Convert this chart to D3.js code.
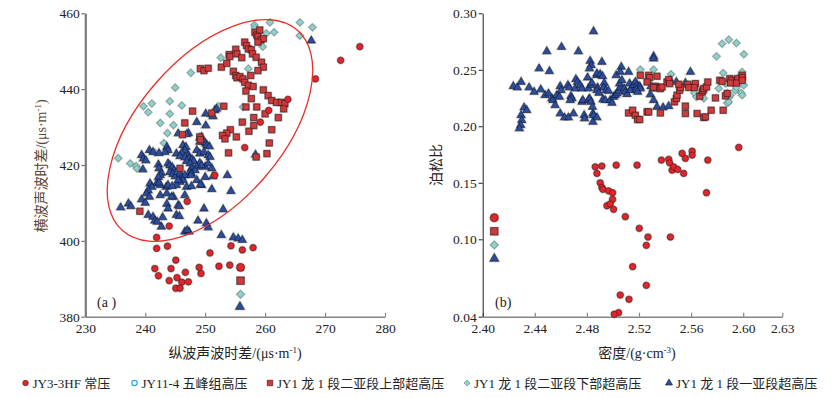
<!DOCTYPE html>
<html><head><meta charset="utf-8">
<script src="https://cdn.jsdelivr.net/npm/d3@7"></script>
<style>
body{margin:0;background:#fff}
svg{display:block}
text{font-family:"Liberation Serif","Times New Roman","Noto Sans CJK SC",serif;fill:#222}
</style>
</head><body>
<svg id="c" width="833" height="398"></svg>
<script>
// ---------------- DATA ----------------
// Panel (a): x = 纵波声波时差 (μs/m), y = 横波声波时差 (μs/m)
const aXTicks = [230, 240, 250, 260, 270, 280];
const aYTicks = [380, 400, 420, 440, 460];
const aCircles = [[275.8,451.2],[272.6,447.6],[268.4,442.7],[263.8,437.3],[260.6,434.4],[259.2,431.3],[256.6,424.6],[251.6,417.3],[247.0,410.4],[244.0,403.9],[241.9,400.9],[241.9,398.0],[243.7,398.6],[245.1,394.9],[241.6,392.7],[244.3,392.7],[242.2,390.8],[246.7,391.7],[249.0,393.0],[249.3,391.4],[245.3,390.3],[244.0,389.5],[246.1,389.1],[247.2,389.2],[245.1,387.5],[245.8,387.5],[250.8,396.8],[252.3,393.3],[254.1,393.6],[254.3,398.7],[256.2,397.6],[258.0,398.2]];
const aSquares = [[247.9,434.2],[246.6,431.1],[246.2,428.0],[249.1,427.4],[249.2,426.7],[245.8,419.1],[251.1,433.7],[253.1,435.5],[249.2,445.4],[249.8,444.9],[250.5,445.5],[252.7,445.8],[253.6,446.8],[254.0,449.1],[254.1,448.6],[255.1,450.5],[255.3,449.3],[256.1,448.3],[256.6,452.4],[256.9,451.5],[257.2,450.6],[257.7,450.4],[257.9,449.3],[258.3,455.0],[258.6,454.3],[258.8,453.9],[259.1,455.6],[259.3,453.0],[259.7,453.3],[258.8,452.4],[258.5,448.4],[259.4,447.1],[259.7,445.8],[258.8,444.9],[254.7,444.7],[255.1,443.6],[255.3,443.0],[255.8,443.3],[256.3,442.7],[256.6,441.8],[257.2,441.0],[257.6,443.6],[258.0,440.7],[256.8,439.5],[257.7,437.5],[256.8,435.3],[258.6,435.3],[259.7,439.8],[260.5,438.3],[261.1,437.0],[261.9,436.5],[262.7,436.5],[263.3,436.2],[263.1,434.8],[260.0,433.5],[262.2,432.5],[258.1,432.5],[256.2,431.3],[258.1,430.4],[257.3,428.9],[261.1,429.3],[254.2,429.3],[253.6,428.4],[252.9,427.8],[253.3,426.9],[255.2,427.4],[260.7,425.8],[253.9,423.2],[260.3,423.0],[258.5,422.1],[239.1,407.8]];
const aDiamonds = [[235.5,421.8],[237.5,420.4],[238.5,419.7],[238.6,419.1],[239.7,435.5],[240.5,433.9],[241.1,436.2],[242.5,431.1],[243.7,428.4],[244.1,436.8],[244.1,433.5],[244.7,430.5],[245.0,440.4],[246.1,435.7],[243.1,425.8],[241.6,423.3],[247.6,444.3],[252.2,435.5],[252.6,448.3],[257.2,445.4],[258.2,456.9],[258.3,456.2],[260.8,457.6],[260.2,454.7],[261.5,455.0],[265.8,457.6],[265.8,454.1],[267.9,456.3],[259.6,451.2],[256.3,435.3]];
const aTriangles = [[267.7,452.8],[250.1,433.5],[251.1,433.3],[251.3,432.8],[251.6,434.4],[251.9,434.8],[248.6,431.3],[250.1,430.4],[245.5,428.3],[247.2,428.4],[246.9,428.1],[249.1,427.1],[249.4,427.4],[249.7,426.1],[250.1,425.6],[250.3,425.2],[250.7,424.9],[249.1,426.1],[246.3,425.2],[246.8,424.7],[246.6,423.9],[243.6,424.7],[243.8,423.9],[243.3,423.4],[240.7,423.9],[241.3,423.4],[239.4,422.6],[239.7,421.7],[245.2,423.0],[246.1,423.2],[247.2,422.6],[248.6,423.9],[249.1,423.0],[249.8,423.4],[250.5,422.6],[239.6,418.8],[242.2,420.1],[242.3,419.1],[242.7,417.9],[242.5,417.3],[243.8,420.4],[244.1,419.9],[244.5,419.4],[244.8,418.6],[244.1,418.1],[244.6,417.6],[245.0,417.0],[245.3,418.1],[245.8,417.6],[246.1,416.8],[246.6,417.3],[246.3,416.0],[245.8,422.3],[246.6,422.0],[247.3,421.8],[247.8,421.5],[248.1,421.0],[246.9,421.0],[247.5,420.4],[249.1,420.5],[250.0,419.5],[250.5,420.4],[251.1,419.1],[247.7,419.1],[248.6,419.5],[249.4,419.9],[250.8,422.1],[247.5,418.2],[248.3,418.6],[247.7,417.7],[250.0,416.8],[251.3,417.0],[253.7,417.3],[254.3,413.1],[251.1,413.6],[249.4,414.7],[246.9,414.2],[247.7,414.4],[245.8,415.5],[245.2,414.7],[243.5,414.2],[243.8,414.7],[241.9,415.1],[242.5,414.7],[240.8,415.1],[241.1,414.2],[240.5,413.3],[240.2,412.5],[240.7,411.6],[242.5,412.0],[243.6,412.5],[244.7,411.6],[246.6,412.0],[242.2,416.8],[247.6,417.3],[248.6,416.0],[249.2,414.8],[239.4,410.9],[240.0,410.0],[243.6,409.7],[243.8,408.5],[245.5,409.4],[245.7,409.1],[235.9,408.8],[237.2,409.8],[237.6,409.1],[240.5,406.8],[241.3,406.3],[241.6,405.3],[242.0,405.0],[242.9,406.2],[242.7,403.7],[245.2,406.8],[245.7,406.5],[249.8,408.5],[253.0,408.3],[248.8,405.3],[250.2,404.6],[250.5,403.5],[246.6,402.4],[247.3,402.4],[247.0,402.8],[252.7,401.5],[254.7,400.9],[255.5,400.6],[256.2,400.2],[242.3,415.3],[244.5,414.4],[245.5,416.0],[244.4,411.6],[242.3,423.1],[240.1,421.2],[258.4,422.7]];
// key symbols drawn inside panel (a)
const aKeyCircle = [[255.9,393.0]];
const aKeySquare = [[255.9,389.5]];
const aKeyDiamond = [[255.9,385.9]];
const aKeyTriangle = [[255.8,382.6]];
// envelope ellipse (data-space centre)
const aEllipseCenter = [250.8, 429.1];

// Panel (b): x = 密度 (g/cm3), y = 泊松比
const bXTicks = [2.40, 2.44, 2.48, 2.52, 2.56, 2.60, 2.63];
const bYTicks = [0.04, 0.10, 0.15, 0.20, 0.25, 0.30];
const bCircles = [[2.4864,0.1641],[2.4915,0.1648],[2.4877,0.1583],[2.5025,0.1656],[2.5185,0.1656],[2.4902,0.1500],[2.4915,0.1459],[2.4923,0.1442],[2.4966,0.1429],[2.4997,0.1412],[2.4997,0.1353],[2.4954,0.1297],[2.4979,0.1312],[2.5005,0.1265],[2.5095,0.1200],[2.5202,0.1097],[2.5269,0.1020],[2.5441,0.1020],[2.5256,0.0953],[2.5151,0.0788],[2.5256,0.0643],[2.5056,0.0568],[2.5123,0.0535],[2.5043,0.0431],[2.5010,0.0419],[2.5372,0.1701],[2.5428,0.1707],[2.5435,0.1677],[2.5454,0.1612],[2.5466,0.1641],[2.5497,0.1618],[2.5531,0.1760],[2.5556,0.1716],[2.5543,0.1583],[2.5608,0.1780],[2.5608,0.1745],[2.5728,0.1701],[2.5718,0.1412],[2.5966,0.1813]];
const bSquares = [[2.5210,0.2451],[2.5274,0.2451],[2.5282,0.2431],[2.5262,0.2392],[2.5325,0.2354],[2.5338,0.2343],[2.5312,0.2343],[2.5364,0.2334],[2.5377,0.2348],[2.5415,0.2392],[2.5428,0.2413],[2.5435,0.2378],[2.5338,0.2443],[2.5120,0.2118],[2.5151,0.2142],[2.5172,0.2098],[2.5189,0.2060],[2.5205,0.2060],[2.5262,0.2127],[2.5274,0.2127],[2.5364,0.2118],[2.5472,0.2216],[2.5487,0.2246],[2.5492,0.2275],[2.5512,0.2319],[2.5518,0.2343],[2.5505,0.2372],[2.5556,0.2178],[2.5556,0.2113],[2.5574,0.2372],[2.5582,0.2343],[2.5633,0.2378],[2.5625,0.2343],[2.5666,0.2266],[2.5685,0.2304],[2.5646,0.2113],[2.5692,0.2319],[2.5697,0.2334],[2.5718,0.2348],[2.5728,0.2392],[2.5697,0.2078],[2.5710,0.2083],[2.5754,0.2142],[2.5787,0.2251],[2.5820,0.2407],[2.5838,0.2398],[2.5846,0.2142],[2.5864,0.2269],[2.5877,0.2290],[2.5897,0.2422],[2.5908,0.2407],[2.5903,0.2383],[2.5954,0.2407],[2.5958,0.2422],[2.5948,0.2383],[2.5992,0.2451],[2.5992,0.2431],[2.5992,0.2407]];
const bDiamonds = [[2.5210,0.2502],[2.5312,0.2502],[2.5446,0.2460],[2.5615,0.2363],[2.5620,0.2343],[2.5625,0.2295],[2.5641,0.2260],[2.5697,0.2246],[2.5795,0.2619],[2.5838,0.2731],[2.5889,0.2767],[2.5948,0.2737],[2.6005,0.2637],[2.5846,0.2472],[2.5812,0.2334],[2.5864,0.2378],[2.5877,0.2295],[2.5889,0.2260],[2.5902,0.2275],[2.5877,0.2207],[2.5889,0.2216],[2.5966,0.2407],[2.5985,0.2460],[2.5992,0.2481],[2.5985,0.2295],[2.5992,0.2275],[2.6005,0.2363],[2.5940,0.2319],[2.5948,0.2343]];
const bTriangles = [[2.4235,0.2354],[2.4266,0.2343],[2.4295,0.2392],[2.4356,0.2343],[2.4395,0.2304],[2.4433,0.2511],[2.4446,0.2325],[2.4492,0.2663],[2.4512,0.2487],[2.4479,0.2275],[2.4505,0.2290],[2.4531,0.2246],[2.4538,0.2231],[2.4556,0.2186],[2.4569,0.2275],[2.4589,0.2260],[2.4595,0.2354],[2.4602,0.2319],[2.4605,0.2701],[2.4595,0.2113],[2.4628,0.2078],[2.4658,0.2078],[2.4654,0.2363],[2.4664,0.2343],[2.4677,0.2266],[2.4685,0.2246],[2.4672,0.2231],[2.4697,0.2113],[2.4715,0.2416],[2.4728,0.2392],[2.4735,0.2663],[2.4710,0.2334],[2.4748,0.2363],[2.4762,0.2334],[2.4762,0.2216],[2.4769,0.2231],[2.4779,0.2098],[2.4782,0.2069],[2.4805,0.2431],[2.4812,0.2334],[2.4831,0.2363],[2.4838,0.2383],[2.4825,0.2578],[2.4833,0.2540],[2.4820,0.2511],[2.4812,0.2231],[2.4820,0.2246],[2.4831,0.2216],[2.4843,0.2171],[2.4846,0.2113],[2.4851,0.2098],[2.4846,0.2039],[2.4877,0.2078],[2.4851,0.2840],[2.4877,0.2451],[2.4877,0.2466],[2.4882,0.2343],[2.4877,0.2319],[2.4892,0.2295],[2.4915,0.2569],[2.4902,0.2460],[2.4920,0.2443],[2.4933,0.2383],[2.4928,0.2343],[2.4923,0.2237],[2.4941,0.2231],[2.4948,0.2319],[2.4966,0.2313],[2.4979,0.2231],[2.4992,0.2207],[2.5005,0.2260],[2.5018,0.2275],[2.5031,0.2290],[2.5043,0.2313],[2.5056,0.2343],[2.5051,0.2378],[2.5025,0.2451],[2.5064,0.2525],[2.5056,0.2481],[2.5069,0.2407],[2.5087,0.2334],[2.5095,0.2304],[2.5108,0.2284],[2.5120,0.2481],[2.5128,0.2378],[2.5146,0.2343],[2.5133,0.2319],[2.5158,0.2363],[2.5172,0.2392],[2.5185,0.2363],[2.5197,0.2343],[2.5205,0.2354],[2.5210,0.2334],[2.5179,0.2325],[2.5189,0.2304],[2.5312,0.2619],[2.5312,0.2599],[2.5292,0.2354],[2.5308,0.2334],[2.5287,0.2281],[2.5312,0.2231],[2.5338,0.2171],[2.5385,0.2166],[2.5428,0.2178],[2.5441,0.2407],[2.5487,0.2392],[2.5595,0.2481],[2.5556,0.2383],[2.4318,0.2166],[2.4338,0.2142],[2.4295,0.2098],[2.4300,0.2054],[2.4292,0.2010],[2.4282,0.1981]];
const bKeyCircle = [[2.4089,0.1191]];
const bKeySquare = [[2.4089,0.1071]];
const bKeyDiamond = [[2.4089,0.0956]];
const bKeyTriangle = [[2.4089,0.0850]];

const legendLabels = ["JY3-3HF 常压", "JY11-4 五峰组高压", "JY1 龙 1 段二亚段上部超高压", "JY1 龙 1 段二亚段下部超高压", "JY1 龙 1 段一亚段超高压"];

// ---------------- DRAW ----------------
const svg = d3.select("#c");

const ax = d3.scaleLinear().domain([230, 280]).range([85.3, 385]);
const ay = d3.scaleLinear().domain([380, 460]).range([316.7, 13.3]);
const bx = d3.scaleLinear().domain([2.40, 2.63]).range([482.7, 782.3]);
const by = d3.scaleLinear().domain([0.04, 0.10, 0.30]).range([316.7, 239.3, 13.3]);

const styles = {
  circle:   {type: d3.symbolCircle,   fill: "#e3242b", stroke: "#4a1515", rot: 0},
  square:   {type: d3.symbolSquare,   fill: "#d13a3c", stroke: "#2e1212", rot: 0},
  diamond:  {type: d3.symbolSquare,   fill: "#90d2ca", stroke: "#4e8a86", rot: 45},
  triangle: {type: d3.symbolTriangle, fill: "#2c4e9e", stroke: "#0e1630", rot: 0}
};
const sizes = {circle: 31, square: 38, diamond: 23, triangle: 27};

function drawPts(g, data, sx, sy, kind, scale) {
  const st = styles[kind];
  const sz = sizes[kind] * (scale || 1);
  const sym = d3.symbol().type(st.type).size(sz);
  const tf = d => `translate(${sx(d[0])},${sy(d[1])})` + (st.rot ? ` rotate(${st.rot})` : "");
  g.selectAll(null).data(data).join("path")
    .attr("transform", tf).attr("d", sym)
    .attr("fill", "none").attr("stroke", "rgba(110,110,110,0.45)").attr("stroke-width", 2.0);
  g.selectAll(null).data(data).join("path")
    .attr("transform", tf).attr("d", sym)
    .attr("fill", st.fill).attr("stroke", st.stroke).attr("stroke-width", 0.6);
}

function styleAxis(g, color, width) {
  g.select(".domain").attr("stroke", color).attr("stroke-width", width);
  g.selectAll(".tick line").attr("stroke", color).attr("stroke-width", Math.min(width, 1.2));
  g.selectAll(".tick text").attr("font-size", "13.5px").attr("fill", "#1e1e2a")
    .style("font-family", '"Liberation Serif","Times New Roman",serif');
}

// ----- Panel (a)
const ga = svg.append("g");
ga.append("g").attr("transform", "translate(0,316.7)")
  .call(d3.axisBottom(ax).tickValues(aXTicks).tickSizeInner(-4).tickSizeOuter(0).tickPadding(7))
  .call(g => styleAxis(g, "#858585", 1.6));
ga.append("g").attr("transform", "translate(85.3,0)")
  .call(d3.axisLeft(ay).tickValues(aYTicks).tickSizeInner(4).tickSizeOuter(0).tickPadding(1.5))
  .call(g => styleAxis(g, "#7a7a7a", 2.2));

const pa = ga.append("g");
drawPts(pa, aDiamonds, ax, ay, "diamond");
drawPts(pa, aTriangles, ax, ay, "triangle");
drawPts(pa, aSquares, ax, ay, "square");
drawPts(pa, aCircles, ax, ay, "circle");
drawPts(pa, aKeyCircle, ax, ay, "circle", 1.6);
drawPts(pa, aKeySquare, ax, ay, "square", 1.4);
drawPts(pa, aKeyDiamond, ax, ay, "diamond", 1.2);
drawPts(pa, aKeyTriangle, ax, ay, "triangle", 1.2);

ga.append("ellipse")
  .attr("transform", `translate(${ax(aEllipseCenter[0])},${ay(aEllipseCenter[1])}) rotate(-49)`)
  .attr("rx", 133).attr("ry", 72)
  .attr("fill", "none").attr("stroke", "#ea2f2a").attr("stroke-width", 1.3);

ga.append("text").attr("x", 97).attr("y", 307).attr("font-size", "14px").text("(a )");

function labelWithSup(sel, main, sup, tail) {
  sel.append("tspan").text(main);
  sel.append("tspan").attr("font-size", "9px").attr("dy", -5).text(sup);
  sel.append("tspan").attr("dy", 5).text(tail);
}
const axl = ga.append("text").attr("x", 235).attr("y", 358).attr("text-anchor", "middle").attr("font-size", "14px");
labelWithSup(axl, "纵波声波时差/(μs·m", "-1", ")");
const ayl = ga.append("text").attr("transform", "translate(46,166) rotate(-90)")
  .attr("text-anchor", "middle").attr("font-size", "14px").style("fill", "#5a4630");
labelWithSup(ayl, "横波声波时差/(μs·m", "-1", ")");

// ----- Panel (b)
const gb = svg.append("g");
gb.append("g").attr("transform", "translate(0,316.7)")
  .call(d3.axisBottom(bx).tickValues(bXTicks).tickFormat(d3.format(".2f")).tickSizeInner(-4).tickSizeOuter(0).tickPadding(7))
  .call(g => styleAxis(g, "#858585", 1.6));
gb.append("g").attr("transform", "translate(482.7,0)")
  .call(d3.axisLeft(by).tickValues(bYTicks).tickFormat(d3.format(".2f")).tickSizeInner(4).tickSizeOuter(0).tickPadding(2))
  .call(g => styleAxis(g, "#222", 1));

const pb = gb.append("g");
drawPts(pb, bDiamonds, bx, by, "diamond");
drawPts(pb, bTriangles, bx, by, "triangle");
drawPts(pb, bSquares, bx, by, "square");
drawPts(pb, bCircles, bx, by, "circle");
drawPts(pb, bKeyCircle, bx, by, "circle", 1.6);
drawPts(pb, bKeySquare, bx, by, "square", 1.4);
drawPts(pb, bKeyDiamond, bx, by, "diamond", 1.2);
drawPts(pb, bKeyTriangle, bx, by, "triangle", 1.2);

gb.append("text").attr("x", 495).attr("y", 307).attr("font-size", "14px").text("(b)");
const bxl = gb.append("text").attr("x", 637).attr("y", 358).attr("text-anchor", "middle").attr("font-size", "14px");
labelWithSup(bxl, "密度/(g·cm", "-3", ")");
gb.append("text").attr("transform", "translate(441,165) rotate(-90)")
  .attr("text-anchor", "middle").attr("font-size", "14px").text("泊松比");

// ----- Legend
const lg = svg.append("g");
const legKinds = ["circle", "hollow", "square", "diamond", "triangle"];
const legMarkX = [25.5, 134.5, 270, 467, 669];
legendLabels.forEach((lab, i) => {
  const k = legKinds[i];
  const x = legMarkX[i], y = 383;
  if (k === "hollow") {
    lg.append("circle").attr("cx", x).attr("cy", y).attr("r", 2.7)
      .attr("fill", "none").attr("stroke", "#29a9e1").attr("stroke-width", 1.2);
  } else {
    const st = styles[k];
    lg.append("path")
      .attr("transform", `translate(${x},${y})` + (st.rot ? ` rotate(45)` : ""))
      .attr("d", d3.symbol().type(st.type).size(sizes[k] * 0.8))
      .attr("fill", st.fill).attr("stroke", st.stroke).attr("stroke-width", 0.6);
  }
  lg.append("text").attr("x", x + 7).attr("y", 388).attr("font-size", "13px").text(lab);
});
</script>
</body></html>
